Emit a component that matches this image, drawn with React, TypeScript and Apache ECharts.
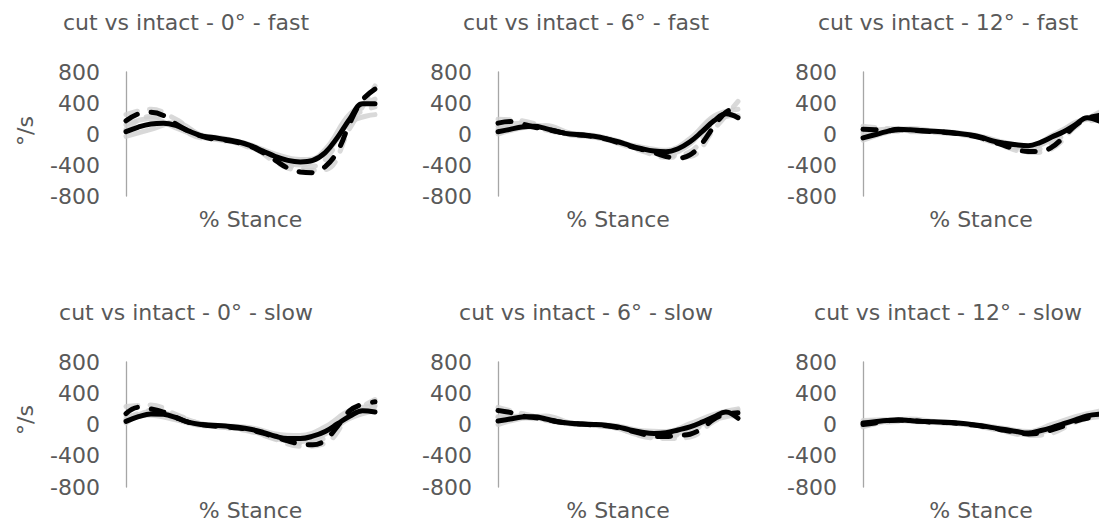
import React, { useEffect, useRef } from "react";
import * as echarts from "echarts";

// % stance sample positions
const STANCE = [0, 5, 10, 15, 20, 25, 30, 35, 40, 45, 50, 55, 60, 65, 70, 75, 80, 85, 90, 95, 100];
const STANCE_TRIAL = [0, 10, 20, 30, 40, 50, 60, 70, 80, 90, 100];
const Y_MIN = -800;
const Y_MAX = 800;
const Y_STEP = 400;

const TITLES = [
  "cut vs intact - 0° - fast",
  "cut vs intact - 6° - fast",
  "cut vs intact - 12° - fast",
  "cut vs intact - 0° - slow",
  "cut vs intact - 6° - slow",
  "cut vs intact - 12° - slow",
];

// group means (°/s)
const intact0Fast = [30, 90, 130, 140, 110, 40, -20, -45, -70, -100, -150, -220, -290, -340, -360, -340, -240, -40, 200, 390, 390];
const cut0Fast = [170, 260, 280, 240, 130, 40, -25, -65, -80, -110, -160, -240, -340, -440, -490, -500, -420, -220, 150, 440, 580];
const intact6Fast = [30, 60, 90, 100, 70, 30, 0, -10, -30, -60, -100, -150, -190, -220, -230, -190, -100, 30, 170, 260, 210];
const cut6Fast = [140, 160, 130, 90, 60, 30, 0, -15, -35, -65, -110, -160, -200, -240, -290, -310, -270, -120, 100, 280, 350];
const intact12Fast = [-50, -10, 30, 60, 55, 45, 35, 25, 10, -10, -40, -90, -120, -140, -150, -110, -40, 30, 120, 210, 170];
const cut12Fast = [60, 55, 40, 55, 50, 40, 30, 20, 5, -15, -50, -100, -150, -200, -225, -225, -170, -40, 110, 200, 240];
const intact0Slow = [40, 100, 135, 130, 90, 30, 0, -10, -20, -35, -60, -100, -150, -180, -180, -150, -90, 10, 110, 175, 160];
const cut0Slow = [140, 220, 200, 160, 90, 30, 0, -20, -30, -45, -70, -110, -160, -210, -250, -260, -200, -20, 180, 260, 290];
const intact6Slow = [45, 70, 95, 100, 70, 35, 15, 5, 0, -10, -30, -70, -100, -115, -105, -70, -30, 30, 100, 160, 80];
const cut6Slow = [180, 155, 110, 90, 65, 35, 15, 5, -5, -15, -40, -80, -120, -155, -155, -140, -125, -50, 70, 130, 150];
const intact12Slow = [20, 35, 50, 60, 50, 40, 35, 30, 20, 5, -15, -40, -65, -90, -110, -80, -40, 10, 60, 110, 130];
const cut12Slow = [0, 20, 45, 55, 50, 40, 30, 25, 15, 0, -20, -45, -75, -100, -120, -110, -70, -20, 40, 80, 90];

// individual trials (°/s): two intact (solid) and two cut (dashed) per condition
const trials0Fast = [
  [-30, 60, 150, -10, -60, -140, -260, -330, -250, 150, 250],
  [120, 200, 80, -40, -80, -170, -320, -400, -200, 260, 450],
  [250, 320, 190, -20, -90, -150, -360, -470, -460, 80, 620],
  [60, 230, 100, -50, -70, -180, -300, -440, -330, 200, 350],
];
const trials6Fast = [
  [0, 80, 110, 10, -20, -90, -210, -260, -130, 200, 240],
  [100, 140, 80, -10, -40, -110, -170, -210, -60, 230, 320],
  [190, 170, 90, 10, -30, -120, -220, -300, -290, 60, 420],
  [60, 100, 50, -10, -40, -100, -190, -280, -230, 140, 280],
];
const trials12Fast = [
  [-80, 20, 70, 40, 15, -30, -110, -170, -70, 150, 200],
  [20, 60, 40, 30, 5, -50, -140, -180, -20, 140, 260],
  [100, 70, 60, 20, 0, -60, -160, -240, -190, 90, 280],
  [-20, 40, 30, 25, 10, -45, -130, -210, -130, 120, 180],
];
const trials0Slow = [
  [20, 170, 110, 10, -30, -80, -180, -220, -120, 80, 180],
  [110, 120, 60, -10, -20, -40, -120, -140, -30, 180, 230],
  [230, 250, 130, 10, -40, -90, -190, -280, -240, 120, 320],
  [70, 180, 70, -10, -40, -70, -150, -240, -170, 140, 250],
];
const trials6Slow = [
  [0, 80, 110, 20, -10, -50, -140, -150, -50, 60, 130],
  [90, 110, 60, 10, 0, -20, -80, -90, 10, 130, 200],
  [220, 140, 80, 20, -10, -50, -150, -180, -160, 40, 180],
  [100, 90, 50, 10, -10, -40, -110, -140, -100, 80, 110],
];
const trials12Slow = [
  [-30, 40, 70, 40, 20, -20, -80, -130, -60, 50, 100],
  [50, 60, 40, 30, 15, -10, -50, -90, 0, 100, 170],
  [30, 50, 50, 30, 10, -30, -90, -140, -110, 30, 120],
  [-20, 30, 40, 25, 10, -25, -70, -110, -50, 70, 140],
];

const INTACT = [intact0Fast, intact6Fast, intact12Fast, intact0Slow, intact6Slow, intact12Slow];
const CUT = [cut0Fast, cut6Fast, cut12Fast, cut0Slow, cut6Slow, cut12Slow];
const TRIALS = [trials0Fast, trials6Fast, trials12Fast, trials0Slow, trials6Slow, trials12Slow];

// layout of the 2 x 3 panel grid (px)
const COL_LEFT = [126, 498, 863];
const COL_RIGHT = [375, 738, 1099];
const TITLE_X = [186, 586, 948];
const ROW_TOP = [72, 362];
const ROW_HEIGHT = [124, 125];
const TITLE_Y = [22, 312];
const UNIT_Y = [131, 420];

const FONT = "'DejaVu Sans', 'Open Sans', sans-serif";
const FONT_SIZE = 22;
const TEXT_COLOR = "#595959";

const pairs = (xs: number[], ys: number[]) => xs.map((x, i) => [x, ys[i]]);

function buildOption() {
  const grid: any[] = [];
  const xAxis: any[] = [];
  const yAxis: any[] = [];
  const series: any[] = [];
  const graphic: any[] = [];

  for (let p = 0; p < 6; p++) {
    const row = Math.floor(p / 3);
    const col = p % 3;
    grid.push({
      left: COL_LEFT[col],
      top: ROW_TOP[row],
      width: COL_RIGHT[col] - COL_LEFT[col],
      height: ROW_HEIGHT[row],
      containLabel: false,
    });
    xAxis.push({
      type: "value",
      gridIndex: p,
      min: 0,
      max: 100,
      axisLine: { show: false, onZero: false },
      axisTick: { show: false },
      axisLabel: { show: false },
      splitLine: { show: false },
      name: "% Stance",
      nameLocation: "middle",
      nameGap: 12,
      nameTextStyle: { color: TEXT_COLOR, fontSize: FONT_SIZE, fontFamily: FONT, verticalAlign: "top" },
    });
    yAxis.push({
      type: "value",
      gridIndex: p,
      min: Y_MIN,
      max: Y_MAX,
      interval: Y_STEP,
      axisLine: { show: true, onZero: false, lineStyle: { color: "#a6a6a6", width: 1.3 } },
      axisTick: { show: false },
      splitLine: { show: false },
      axisLabel: { color: TEXT_COLOR, fontSize: FONT_SIZE, fontFamily: FONT, margin: 26 },
    });

    TRIALS[p].forEach((tr, k) => {
      series.push({
        type: "line",
        name: k < 2 ? "intact trial" : "cut trial",
        xAxisIndex: p,
        yAxisIndex: p,
        data: pairs(STANCE_TRIAL, tr),
        smooth: 0.4,
        showSymbol: false,
        symbol: "none",
        z: 2,
        lineStyle: {
          color: "#cfcfcf",
          width: 5,
          opacity: 0.8,
          type: k < 2 ? "solid" : [12, 12],
          cap: "round",
        },
      });
    });
    series.push({
      type: "line",
      name: "cut",
      xAxisIndex: p,
      yAxisIndex: p,
      data: pairs(STANCE, CUT[p]),
      smooth: 0.4,
      showSymbol: false,
      symbol: "none",
      z: 3,
      lineStyle: { color: "#000", width: 5, type: [13, 14], cap: "round" },
    });
    series.push({
      type: "line",
      name: "intact",
      xAxisIndex: p,
      yAxisIndex: p,
      data: pairs(STANCE, INTACT[p]),
      smooth: 0.4,
      showSymbol: false,
      symbol: "none",
      z: 4,
      lineStyle: { color: "#000", width: 5, cap: "round" },
    });

    graphic.push({
      type: "text",
      x: TITLE_X[col],
      y: TITLE_Y[row],
      style: {
        text: TITLES[p],
        fill: TEXT_COLOR,
        font: `${FONT_SIZE}px ${FONT}`,
        align: "center",
        verticalAlign: "middle",
      },
    });
    if (col === 0) {
      graphic.push({
        type: "text",
        x: 25,
        y: UNIT_Y[row],
        rotation: Math.PI / 2,
        style: {
          text: "°/s",
          fill: TEXT_COLOR,
          font: `${FONT_SIZE}px ${FONT}`,
          align: "center",
          verticalAlign: "middle",
        },
      });
    }
  }

  return { animation: false, grid, xAxis, yAxis, series, graphic };
}

export default function App() {
  const ref = useRef<HTMLDivElement>(null);
  useEffect(() => {
    if (!ref.current) return;
    const chart = echarts.init(ref.current, undefined, { renderer: "svg" });
    chart.setOption(buildOption() as any);
    return () => chart.dispose();
  }, []);
  return (
    <div
      ref={ref}
      style={{ position: "fixed", left: 0, top: 0, width: 1099, height: 525, background: "#fff" }}
    />
  );
}
